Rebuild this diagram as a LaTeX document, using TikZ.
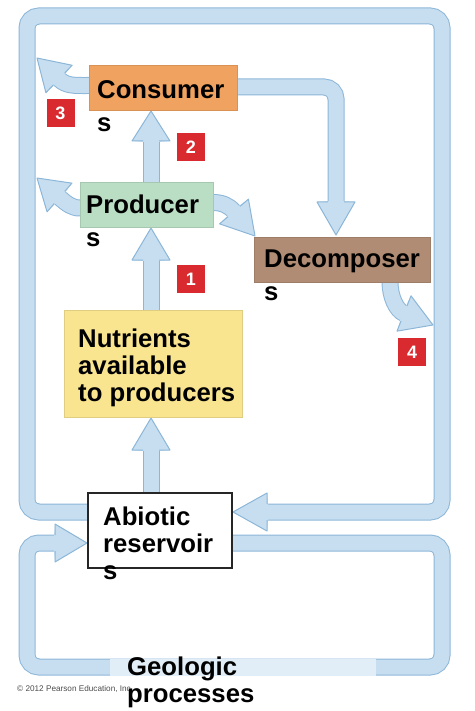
\documentclass[tikz,border=0pt]{standalone}
\usepackage{fontspec}
\setmainfont{Liberation Sans}
\usetikzlibrary{calc}

\definecolor{tubefill}{RGB}{198,222,240}
\definecolor{tubeline}{RGB}{140,182,216}
\definecolor{geofill}{RGB}{226,238,247}
\definecolor{conscol}{RGB}{240,162,96}
\definecolor{prodcol}{RGB}{186,222,196}
\definecolor{decocol}{RGB}{176,140,116}
\definecolor{nutrcol}{RGB}{249,228,143}
\definecolor{badgecol}{RGB}{217,43,47}

% 箭头头部：#1 = 底边中点, #2 = 尖端
\newcommand{\flowhead}[2]{%
  \coordinate (hb) at ($(#1)!-1pt!(#2)$);
  \fill[tubefill] ($(hb)!7.5pt!90:(#2)$) -- ($(#1)!19pt!90:(#2)$) -- (#2)
    -- ($(#1)!19pt!-90:(#2)$) -- ($(hb)!7.5pt!-90:(#2)$) -- cycle;
  \draw[tubeline, line width=1pt, line join=round]
    ($(#1)!8pt!90:(#2)$) -- ($(#1)!19pt!90:(#2)$) -- (#2)
    -- ($(#1)!19pt!-90:(#2)$) -- ($(#1)!8pt!-90:(#2)$);
}

\begin{document}
\begin{tikzpicture}[x=1pt, y=-1pt,
    % --- 样式定义 ---
    tube/.style={draw=tubeline, line width=1pt, double=tubefill, double distance=15pt},
    loop/.style={tube, rounded corners=12pt},
    box/.style={draw, line width=0.8pt, inner sep=0pt},
    lbl/.style={font=\fontsize{25.7}{27}\selectfont\bfseries, align=left,
        inner sep=0pt, anchor=north west},
    badge/.style={fill=badgecol, minimum size=28pt, inner sep=0pt, text=white,
        font=\fontsize{18}{18}\selectfont\bfseries}
]
    \useasboundingbox (0,0) rectangle (474,711);

    % =========================================
    % 【坐标】 箭头底边中点 (M) 与尖端 (T)
    % =========================================
    \coordinate (loopA_M) at (267,512);   \coordinate (loopA_T) at (233,512);
    \coordinate (loopB_M) at (55,543);    \coordinate (loopB_T) at (87,543);
    \coordinate (up1_M)   at (151,450);   \coordinate (up1_T)   at (151,418);
    \coordinate (up2_M)   at (151,260);   \coordinate (up2_T)   at (151,228);
    \coordinate (up3_M)   at (151,141);   \coordinate (up3_T)   at (151,111);
    \coordinate (down_M)  at (336,202);   \coordinate (down_T)  at (336,235);
    \coordinate (c3_M)    at (59,79);     \coordinate (c3_T)    at (37,58);
    \coordinate (p3_M)    at (59.5,197.5);\coordinate (p3_T)    at (37,178);
    \coordinate (pd_M)    at (234,211.5); \coordinate (pd_T)    at (255,236);
    \coordinate (d4_M)    at (404,313.5); \coordinate (d4_T)    at (433,325);

    % =========================================
    % 【管道】 两个大循环
    % =========================================
    % 上循环：储库 -> 左 -> 上 -> 右 -> 回到储库
    \draw[loop] (110,512) -- (27,512) -- (27,16) -- (442,16) -- (442,512) -- (loopA_M);
    % 下循环：地质过程
    \draw[loop] (215,543) -- (442,543) -- (442,667) -- (27,667) -- (27,543) -- (loopB_M);
    \fill[geofill] (110,658.5) rectangle (376,675.5);

    % --- 竖直箭头 ---
    \draw[tube] (151,500) -- (up1_M);
    \draw[tube] (151,315) -- (up2_M);
    \draw[tube] (151,190) -- (up3_M);
    \draw[tube, rounded corners=12pt] (230,87) -- (336,87) -- (down_M);

    % --- 弯曲箭头 ---
    \draw[tube] (95,85.5) -- (88,85.5) .. controls (74,85.5) and (66,86) .. (c3_M);
    \draw[tube] (90,208) -- (80,208) .. controls (72,208) and (67,204) .. (p3_M);
    \draw[tube] (206,202.5) -- (213,202.5) .. controls (222,202.5) and (228.8,205.4) .. (pd_M);
    \draw[tube] (390,275) -- (390,282) .. controls (390,297) and (396.6,310.5) .. (d4_M);

    % --- 箭头头部 ---
    \flowhead{loopA_M}{loopA_T}
    \flowhead{loopB_M}{loopB_T}
    \flowhead{up1_M}{up1_T}
    \flowhead{up2_M}{up2_T}
    \flowhead{up3_M}{up3_T}
    \flowhead{down_M}{down_T}
    \flowhead{c3_M}{c3_T}
    \flowhead{p3_M}{p3_T}
    \flowhead{pd_M}{pd_T}
    \flowhead{d4_M}{d4_T}

    % =========================================
    % 【方框】
    % =========================================
    \node[box, fill=conscol, draw=conscol!90!black, minimum width=148pt, minimum height=45pt]
        (cons) at (163,87.5) {};
    \node[box, fill=prodcol, draw=prodcol!90!black, minimum width=133pt, minimum height=45pt]
        (prod) at (146.5,204.5) {};
    \node[box, fill=decocol, draw=decocol!90!black, minimum width=176pt, minimum height=45pt]
        (deco) at (342,259.5) {};
    \node[box, fill=nutrcol, draw=nutrcol!90!black, minimum width=178pt, minimum height=107pt]
        (nutr) at (153,363.5) {};
    \node[box, fill=white, draw=black!85, line width=1.4pt, minimum width=144pt, minimum height=75pt]
        (abio) at (160,530.5) {};

    % --- 文字 ---
    \node[lbl] (cons_t) at (97,80)  {Consumer\\[6pt]s};
    \node[lbl] (prod_t) at (86,195) {Producer\\[6pt]s};
    \node[lbl] (deco_t) at (264,250) {Decomposer\\[6pt]s};
    \node[lbl] (nutr_t) at (78,329) {Nutrients\\available\\to producers};
    \node[lbl] (abio_t) at (103,507) {Abiotic\\reservoir\\s};

    \node[anchor=west, inner sep=0pt, text=black!70, font=\fontsize{8.2}{9}\selectfont]
        (copy) at (17,689) {© 2012 Pearson Education, Inc.};
    \node[lbl] (geo_t) at (127,657) {Geologic\\processes};

    % --- 编号 ---
    \node[badge] (n1) at (191,279) {1};
    \node[badge] (n2) at (191,147) {2};
    \node[badge] (n3) at (60.5,113) {3};
    \node[badge] (n4) at (412,352) {4};

\end{tikzpicture}
\end{document}
